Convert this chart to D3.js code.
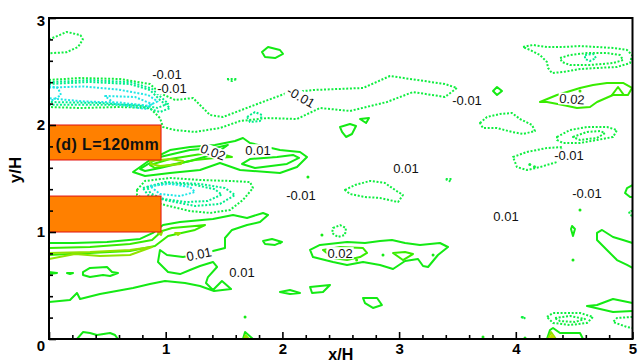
<!DOCTYPE html>
<html><head><meta charset="utf-8">
<script src="https://cdn.jsdelivr.net/npm/d3@7"></script>
<style>
html,body{margin:0;padding:0;background:#fff;}
svg{display:block;font-family:"Liberation Sans",Arial,Helvetica,sans-serif;}
</style>
</head><body>
<svg id="chart" width="638" height="363"></svg>
<script>
// Axis ticks (x/H, y/H)
const xTicks = [0, 1, 2, 3, 4, 5];
const yTicks = [0, 1, 2, 3];

// Contour levels and their colours (rainbow map around zero)
const levels = [-0.03, -0.02, -0.01, 0.01, 0.02, 0.03, 0.04];
const levelColours = ['#20e6e6', '#00ee8c', '#10ee40', '#14ea14', '#38ec00', '#90e400', '#c4dc00'];

// The two square ribs: [x0, x1, y0, y1] in x/H, y/H
const blocks = [[0, 0.96, 1.673, 2.0], [0, 0.96, 1.0, 1.336]];
const blockLabel = ['(d) L=120mm', 0.50, 1.82];

// Negative contour lines (dotted)
const negativeContours = [
  {level: -0.01, open: true, pts: [[0,2.80],[0.09,2.84],[0.15,2.87],[0.27,2.84],[0.29,2.80],[0.25,2.73],[0.15,2.68],[0,2.67]]},
  {level: -0.01, open: true, pts: [[0,2.421],[0.266,2.439],[0.608,2.430],[0.865,2.383],[0.951,2.299],[1.080,2.234],[1.234,2.252],[1.294,2.187],[1.380,2.093],[1.491,2.075],[1.808,2.206],[2.039,2.299],[2.262,2.327],[2.691,2.346],[2.922,2.458],[3.153,2.421],[3.393,2.383],[3.496,2.346],[3.393,2.262],[3.119,2.308],[2.896,2.215],[2.579,2.131],[2.322,2.159],[2.125,2.056],[1.868,2.065],[1.637,2.037],[1.465,1.972],[1.251,1.935],[1.080,1.953],[0.977,1.981],[0.951,2.065],[0.865,2.159],[0.608,2.168],[0.266,2.159],[0,2.168]]},
  {level: -0.02, open: true, pts: [[0,2.383],[0.351,2.402],[0.694,2.383],[0.865,2.327],[0.951,2.234],[1.037,2.159],[0.951,2.121],[0.780,2.178],[0.437,2.206],[0,2.215]]},
  {level: -0.02, open: true, pts: [[0,2.40],[0.35,2.42],[0.70,2.40],[0.88,2.34],[0.96,2.26],[1.02,2.20],[0.93,2.16],[0.75,2.19],[0.40,2.19],[0,2.19]]},
  {level: -0.03, open: true, pts: [[0,2.35],[0.30,2.36],[0.60,2.33],[0.85,2.28],[0.93,2.22],[0.85,2.18],[0.60,2.21],[0.30,2.22],[0,2.25]]},
  {level: -0.03, open: true, pts: [[0,2.364],[0.077,2.346],[0.103,2.280],[0.034,2.234],[0,2.234]]},
  {level: -0.03, pts: [[0.480,2.271],[0.737,2.262],[0.883,2.196],[0.823,2.150],[0.566,2.196]]},
  {level: -0.02, pts: [[1.697,2.075],[1.765,2.121],[1.825,2.093],[1.808,2.037],[1.722,2.028]]},
  {level: -0.01, pts: [[1.525,2.430],[1.611,2.430],[1.568,2.411]]},
  {level: -0.01, pts: [[0.754,1.393],[0.823,1.477],[1.037,1.505],[1.294,1.486],[1.551,1.477],[1.722,1.467],[1.748,1.411],[1.662,1.299],[1.551,1.206],[1.380,1.178],[1.208,1.196],[0.994,1.252],[0.823,1.299],[0.754,1.346]]},
  {level: -0.02, pts: [[0.805,1.411],[0.994,1.467],[1.294,1.449],[1.508,1.411],[1.594,1.346],[1.465,1.262],[1.251,1.243],[0.994,1.299],[0.848,1.346]]},
  {level: -0.02, pts: [[0.84,1.42],[1.00,1.455],[1.25,1.44],[1.42,1.40],[1.48,1.35],[1.36,1.29],[1.18,1.28],[0.98,1.31],[0.87,1.36]]},
  {level: -0.03, pts: [[0.865,1.430],[1.037,1.449],[1.208,1.421],[1.251,1.374],[1.123,1.336],[0.951,1.355]]},
  {level: -0.01, pts: [[2.536,1.393],[2.622,1.439],[2.751,1.477],[2.879,1.458],[2.965,1.393],[3.033,1.346],[2.991,1.280],[2.836,1.318],[2.708,1.327],[2.579,1.355]]},
  {level: -0.01, pts: [[2.434,1.037],[2.494,1.065],[2.545,1.037],[2.536,0.972],[2.476,0.953],[2.425,0.991]]},
  {level: -0.01, pts: [[4.062,2.729],[4.147,2.748],[4.267,2.729],[4.404,2.729],[4.550,2.738],[4.696,2.729],[4.833,2.720],[4.953,2.701],[4.996,2.654],[4.979,2.579],[4.867,2.542],[4.696,2.533],[4.550,2.523],[4.404,2.495],[4.310,2.486],[4.276,2.533],[4.267,2.589],[4.207,2.654],[4.122,2.701]]},
  {level: -0.01, pts: [[4.379,2.626],[4.464,2.654],[4.610,2.673],[4.781,2.673],[4.893,2.654],[4.919,2.607],[4.833,2.579],[4.636,2.561],[4.464,2.561],[4.396,2.589]]},
  {level: -0.02, pts: [[4.593,2.654],[4.662,2.664],[4.687,2.626],[4.636,2.598],[4.593,2.617]]},
  {level: -0.01, pts: [[4.353,1.888],[4.464,1.953],[4.610,1.981],[4.781,1.981],[4.867,1.953],[4.833,1.888],[4.696,1.860],[4.550,1.832],[4.404,1.832],[4.353,1.860]]},
  {level: -0.01, pts: [[4.490,1.888],[4.610,1.935],[4.722,1.944],[4.764,1.925],[4.696,1.879],[4.550,1.860]]},
  {level: -0.01, pts: [[3.976,1.701],[4.096,1.748],[4.267,1.785],[4.396,1.794],[4.379,1.738],[4.353,1.654],[4.207,1.607],[4.096,1.579],[4.010,1.607]]},
  {level: -0.01, pts: [[3.693,2.019],[3.753,2.075],[3.865,2.103],[3.967,2.112],[4.036,2.056],[4.139,2.000],[4.164,1.944],[4.062,1.916],[3.967,1.935],[3.839,1.972],[3.719,1.972]]},
  {level: -0.01, pts: [[4.267,0.206],[4.319,0.243],[4.550,0.243],[4.662,0.206],[4.610,0.150],[4.464,0.131],[4.319,0.150]]},
  {level: -0.01, pts: [[4.336,0.196],[4.464,0.215],[4.593,0.187],[4.507,0.159],[4.379,0.168]]},
  {level: -0.01, open: true, pts: [[5.0,0.206],[4.867,0.196],[4.833,0.159],[4.953,0.112],[5.0,0.103]]},
  {level: -0.01, pts: [[3.40,1.495],[3.45,1.495],[3.43,1.475]]},
  {level: -0.01, pts: [[4.05,0.205],[4.08,0.205],[4.07,0.185]]},
  {level: -0.01, open: true, pts: [[5.0,1.20],[4.97,1.19],[4.98,1.16],[5.0,1.15]]}
];

// Positive contour lines (solid)
const positiveContours = [
  {level: 0.01, pts: [[0.720,1.561],[0.865,1.673],[1.037,1.766],[1.208,1.794],[1.422,1.813],[1.594,1.850],[1.662,1.879],[1.722,1.832],[1.979,1.766],[2.151,1.748],[2.211,1.701],[2.125,1.607],[1.979,1.551],[1.637,1.579],[1.465,1.645],[1.294,1.579],[1.037,1.551],[0.823,1.523]]},
  {level: 0.01, pts: [[0.780,1.589],[0.951,1.701],[1.208,1.766],[1.422,1.785],[1.533,1.813],[1.422,1.729],[1.208,1.664],[0.951,1.598],[0.823,1.570]]},
  {level: 0.02, pts: [[0.865,1.626],[1.037,1.682],[1.251,1.720],[1.422,1.748],[1.568,1.701],[1.422,1.692],[1.251,1.673],[1.037,1.626],[0.908,1.598]]},
  {level: 0.03, pts: [[0.865,1.664],[1.037,1.682],[1.148,1.664],[1.131,1.636],[0.951,1.617],[0.874,1.636]]},
  {level: 0.01, pts: [[1.654,1.636],[1.722,1.682],[1.954,1.701],[2.091,1.720],[2.142,1.692],[2.039,1.636],[1.765,1.598]]},
  {level: 0.01, open: true, pts: [[0,0.897],[0.206,0.897],[0.497,0.907],[0.780,0.935],[0.891,0.991],[0.977,1.065],[1.123,1.093],[1.405,1.121],[1.577,1.159],[1.697,1.131],[1.834,1.178],[1.877,1.159],[1.808,1.093],[1.697,1.065],[1.568,1.019],[1.508,0.944],[1.508,0.850],[1.405,0.822],[1.148,0.766],[1.011,0.785],[0.951,0.832],[0.934,0.720],[1.020,0.626],[1.123,0.607],[1.208,0.645],[1.294,0.682],[1.405,0.720],[1.440,0.673],[1.362,0.579],[1.345,0.523],[1.405,0.458],[1.482,0.542],[1.560,0.467],[1.414,0.449],[1.294,0.495],[1.165,0.523],[0.994,0.542],[0.865,0.514],[0.720,0.477],[0.437,0.421],[0.266,0.374],[0.240,0.430],[0.180,0.364],[0,0.346]]},
  {level: 0.02, open: true, pts: [[0,0.850],[0.351,0.860],[0.694,0.888],[0.883,0.925],[0.969,1.009],[1.054,1.037],[1.251,1.056],[1.337,1.065],[1.251,1.019],[1.020,0.963],[0.908,0.869],[0.694,0.822],[0.351,0.804],[0,0.785]]},
  {level: 0.03, open: true, pts: [[0,0.804],[0.351,0.813],[0.694,0.832],[0.883,0.860],[0.694,0.785],[0.437,0.776],[0.223,0.794],[0,0.748]]},
  {level: 0.01, pts: [[0.291,0.626],[0.351,0.664],[0.497,0.673],[0.540,0.626],[0.591,0.617],[0.523,0.589],[0.463,0.598],[0.351,0.579],[0.291,0.598]]},
  {level: 0.01, open: true, pts: [[0,0.626],[0.069,0.617],[0,0.607]]},
  {level: 0.01, pts: [[0.154,0.617],[0.206,0.617],[0.180,0.607]]},
  {level: 0.03, pts: [[0.934,0.991],[0.969,1.000],[0.960,0.972]]},
  {level: 0.03, pts: [[1.080,0.991],[1.123,0.991],[1.105,0.972]]},
  {level: 0.01, open: true, pts: [[0.240,0],[0.291,0.065],[0.351,0.056],[0.411,0.037],[0.523,0.056],[0.566,0.037],[0.591,0]]},
  {level: 0.01, pts: [[1.825,2.682],[1.877,2.729],[1.979,2.701],[2.005,2.664],[1.937,2.626],[1.851,2.636]]},
  {level: 0.01, pts: [[2.494,1.981],[2.579,2.009],[2.631,1.991],[2.596,1.916],[2.545,1.888],[2.511,1.935]]},
  {level: 0.01, pts: [[2.665,2.056],[2.742,2.065],[2.717,2.019]]},
  {level: 0.01, pts: [[1.834,0.916],[1.911,0.935],[1.997,0.907],[1.937,0.879],[1.851,0.888]]},
  {level: 0.01, pts: [[2.237,0.832],[2.322,0.879],[2.554,0.907],[2.708,0.897],[2.836,0.916],[2.939,0.925],[3.051,0.897],[3.179,0.879],[3.350,0.897],[3.419,0.860],[3.333,0.785],[3.248,0.673],[3.205,0.682],[3.162,0.748],[3.051,0.729],[2.948,0.654],[2.836,0.692],[2.691,0.720],[2.554,0.692],[2.434,0.720],[2.262,0.766]]},
  {level: 0.02, pts: [[2.348,0.832],[2.494,0.860],[2.691,0.850],[2.725,0.804],[2.665,0.766],[2.554,0.738],[2.434,0.757]]},
  {level: 0.02, pts: [[2.948,0.804],[3.051,0.813],[3.119,0.794],[3.033,0.738]]},
  {level: 0.01, open: true, pts: [[1.662,0],[1.680,0.065],[1.748,0]]},
  {level: 0.03, open: true, pts: [[1.672,0],[1.684,0.035],[1.712,0]]},
  {level: 0.01, pts: [[1.979,0.439],[2.065,0.458],[2.151,0.430],[2.065,0.421]]},
  {level: 0.01, pts: [[2.237,0.486],[2.408,0.505],[2.348,0.439],[2.254,0.430]]},
  {level: 0.01, pts: [[2.691,0.383],[2.811,0.383],[2.853,0.318],[2.776,0.290],[2.708,0.336]]},
  {level: 0.02, pts: [[4.207,2.215],[4.353,2.280],[4.439,2.308],[4.550,2.346],[4.662,2.374],[4.781,2.393],[4.919,2.393],[4.996,2.346],[4.961,2.280],[4.833,2.280],[4.696,2.215],[4.636,2.168],[4.524,2.159],[4.404,2.187],[4.267,2.215]]},
  {level: 0.02, pts: [[4.824,2.280],[4.876,2.355],[4.927,2.280]]},
  {level: 0.01, pts: [[3.805,2.318],[3.839,2.355],[3.882,2.318],[3.839,2.280]]},
  {level: 0.01, open: true, pts: [[5.0,1.439],[4.953,1.411],[4.936,1.364],[4.979,1.327],[5.0,1.327]]},
  {level: 0.01, open: true, pts: [[5.0,0.897],[4.919,0.925],[4.833,0.953],[4.739,1.019],[4.696,0.991],[4.696,0.925],[4.781,0.832],[4.867,0.738],[4.953,0.692],[5.0,0.664]]},
  {level: 0.01, open: true, pts: [[5.0,0.336],[4.833,0.374],[4.696,0.318],[4.610,0.308],[4.722,0.280],[4.833,0.252],[5.0,0.262]]},
  {level: 0.01, open: true, pts: [[4.267,0],[4.293,0.084],[4.319,0.103],[4.379,0.056],[4.464,0.056],[4.550,0.056],[4.576,0]]},
  {level: 0.03, open: true, pts: [[4.276,0],[4.302,0.065],[4.344,0]]},
  {level: 0.04, open: true, pts: [[4.293,0],[4.310,0.037],[4.327,0]]},
  {level: 0.01, pts: [[4.482,1.056],[4.507,1.028],[4.490,0.963],[4.473,1.028]]}
];

// Isolated single-cell islands: [x/H, y/H, level]
const spots = [
  [2.219, 1.514, 0.01], [1.680, 0.206, 0.01], [2.339, 0.972, 0.01], [2.862, 0.785, 0.01],
  [3.291, 0.785, 0.01], [4.550, 1.206, 0.01], [4.490, 0.738, 0.01], [3.719, 0.019, 0.01],
  [4.079, 0.009, 0.01], [4.550, 2.318, 0.02], [2.636, 0.738, 0.02], [1.98, 0.90, 0.01],
  [4.12, 1.63, -0.01], [4.16, 1.61, -0.01]
];

// Contour labels: [text, x/H, y/H]
const contourLabels = [
  ['-0.01', 1.011, 2.476], ['-0.01', 1.054, 2.346], ['-0.01', 2.159, 2.262],
  ['-0.01', 3.582, 2.234], ['0.02', 4.482, 2.243], ['0.02', 1.405, 1.748],
  ['0.01', 1.791, 1.766], ['-0.01', 4.456, 1.720], ['0.01', 3.059, 1.598],
  ['-0.01', 2.159, 1.346], ['-0.01', 4.610, 1.364], ['0.01', 3.916, 1.150],
  ['0.01', 1.285, 0.794], ['0.02', 2.494, 0.804], ['0.01', 1.654, 0.626]
];
const labelAngles = [0, 0, 30, 0, 4, 20, 0, 0, 0, 0, 0, 0, -12, 0, 0];

// ---------------------------------------------------------------
const svg = d3.select('#chart');
const x = d3.scaleLinear().domain([0, 5]).range([49, 632.5]);
const y = d3.scaleLinear().domain([0, 3]).range([339, 18]);
const colour = d3.scaleOrdinal().domain(levels).range(levelColours);

svg.append('defs').append('clipPath').attr('id', 'plotClip')
  .append('rect')
  .attr('x', x(0)).attr('y', y(3))
  .attr('width', x(5) - x(0)).attr('height', y(0) - y(3));

const plot = svg.append('g').attr('clip-path', 'url(#plotClip)');

const openLine = d3.line().x(d => x(d[0])).y(d => y(d[1]));
const closedLine = d3.line().x(d => x(d[0])).y(d => y(d[1])).curve(d3.curveLinearClosed);

function drawContours(list, dotted) {
  plot.append('g').selectAll('path').data(list).join('path')
    .attr('d', c => (c.open ? openLine : closedLine)(c.pts))
    .attr('fill', 'none')
    .attr('stroke', c => colour(c.level))
    .attr('stroke-width', 2)
    .attr('stroke-linejoin', 'round')
    .attr('stroke-dasharray', dotted ? '2 1.7' : null);
}
drawContours(negativeContours, true);
drawContours(positiveContours, false);

plot.append('g').selectAll('circle').data(spots).join('circle')
  .attr('cx', d => x(d[0])).attr('cy', d => y(d[1])).attr('r', 1.5)
  .attr('fill', d => colour(d[2]));

// Ribs
plot.append('g').selectAll('rect').data(blocks).join('rect')
  .attr('x', d => x(d[0])).attr('y', d => y(d[3]))
  .attr('width', d => x(d[1]) - x(d[0])).attr('height', d => y(d[2]) - y(d[3]))
  .attr('fill', '#ff8000').attr('stroke', '#e01010').attr('stroke-width', 1);

svg.append('text')
  .attr('x', x(blockLabel[1])).attr('y', y(blockLabel[2]))
  .attr('text-anchor', 'middle').attr('dy', '0.36em')
  .attr('font-size', 16).attr('font-weight', 'bold').attr('letter-spacing', 0.4)
  .attr('fill', '#111').text(blockLabel[0]);

// Contour labels with a white gap in the lines behind them
const lab = plot.append('g').selectAll('g').data(contourLabels).join('g')
  .attr('transform', (d, i) => `translate(${x(d[1])},${y(d[2])}) rotate(${labelAngles[i]})`);
lab.append('rect').attr('fill', '#fff');
lab.append('text')
  .attr('text-anchor', 'middle').attr('dy', '0.36em')
  .attr('font-size', 13).attr('fill', '#111')
  .text(d => d[0]);
lab.each(function () {
  const g = d3.select(this);
  const b = g.select('text').node().getBBox();
  g.select('rect').attr('x', b.x - 1).attr('y', b.y + 1.5)
    .attr('width', b.width + 2).attr('height', b.height - 3);
});

// Axes
const xMinor = d3.range(0, 5.001, 0.2).filter(v => Math.abs(v - Math.round(v)) > 1e-6);
const yMinor = d3.range(0, 3.001, 0.2).filter(v => Math.abs(v - Math.round(v)) > 1e-6);

function styleAxis(g) {
  g.select('.domain').remove();
  g.selectAll('.tick line').attr('stroke', '#000').attr('stroke-width', 1.6);
  g.selectAll('.tick text').attr('fill', '#000').attr('font-size', 15)
    .attr('font-weight', 'bold').attr('font-family', '"Liberation Sans",Arial,sans-serif');
}

svg.append('g').attr('transform', `translate(0,${y(0)})`)
  .call(d3.axisBottom(x).tickValues(xMinor).tickSize(-4).tickFormat(''))
  .call(styleAxis);
svg.append('g').attr('transform', `translate(0,${y(0)})`)
  .call(d3.axisBottom(x).tickValues(xTicks).tickSize(-7).tickPadding(4)
    .tickFormat(d => d === 0 ? '' : String(d)))
  .call(styleAxis);
svg.append('g').attr('transform', `translate(${x(0)},0)`)
  .call(d3.axisLeft(y).tickValues(yMinor).tickSize(-4).tickFormat(''))
  .call(styleAxis);
const yAx = svg.append('g').attr('transform', `translate(${x(0)},0)`)
  .call(d3.axisLeft(y).tickValues(yTicks).tickSize(-7).tickPadding(4)
    .tickFormat(d => String(d)))
  .call(styleAxis);
yAx.selectAll('.tick text').attr('dy', d => d === 0 ? '0.75em' : d === 3 ? '0.5em' : '0.32em');

// Frame
svg.append('rect')
  .attr('x', x(0)).attr('y', y(3))
  .attr('width', x(5) - x(0)).attr('height', y(0) - y(3))
  .attr('fill', 'none').attr('stroke', '#000').attr('stroke-width', 2);

// Axis titles
svg.append('text').attr('x', (x(0) + x(5)) / 2).attr('y', 359.5)
  .attr('text-anchor', 'middle').attr('font-size', 16).attr('font-weight', 'bold')
  .text('x/H');
svg.append('text').attr('transform', `translate(21,170) rotate(-90)`)
  .attr('text-anchor', 'middle').attr('font-size', 17).attr('font-weight', 'bold')
  .text('y/H');
</script>
</body></html>
